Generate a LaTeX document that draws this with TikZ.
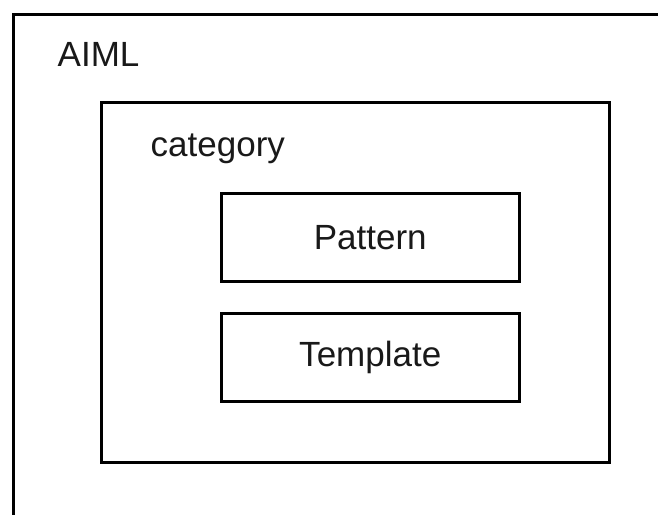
\documentclass[tikz,border=0pt]{standalone}
\usepackage{fontspec}
\setmainfont{Liberation Sans}
\begin{document}
\begin{tikzpicture}[x=1pt,y=-1pt,
  frame/.style={draw=black,line width=3pt,rectangle,inner sep=0pt},
  label/.style={font=\fontsize{35}{42}\selectfont,text=black!90,inner sep=0pt},
  part/.style={frame,minimum width=298.5pt,minimum height=88pt,font=\fontsize{35}{42}\selectfont,text=black!90}]
  \useasboundingbox (0,0) rectangle (658,514);
  \clip (0,0) rectangle (658,514);
  \fill[white] (0,0) rectangle (658,514);
  % AIML container: runs past the right and bottom edges
  \node[frame,minimum width=700pt,minimum height=600pt,anchor=north west] (aiml) at (11.5,12.5) {};
  \node[label,anchor=base west] (aimltext) at (57.5,66.7) {AIML};
  % category container
  \node[frame,minimum width=508pt,minimum height=359.5pt] (category) at (355.5,282.25) {};
  \node[label,anchor=base west] (cattext) at (150.5,156) {category};
  % parts of a category
  \node[part] (pattern) at (370.25,237.5) {Pattern};
  \node[part] (template) at (370.25,357.5) {Template};
\end{tikzpicture}
\end{document}
